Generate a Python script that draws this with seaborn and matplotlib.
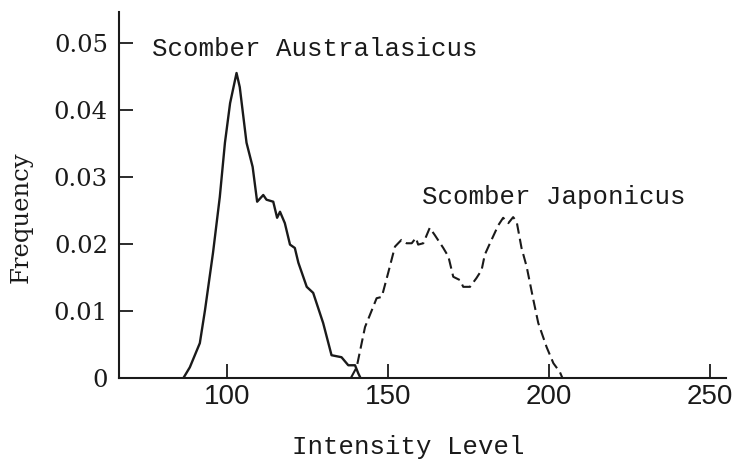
import numpy as np
import pandas as pd
import matplotlib
matplotlib.use("Agg")
import matplotlib.pyplot as plt
import seaborn as sns

# Intensity histograms
aus_x = [86.5, 88.5, 91.6, 93.2, 95.7, 97.8, 99.4, 101.0, 103.0, 104.0, 106.1, 108.0,
         109.4, 111.3, 112.3, 114.4, 115.6, 116.5, 118.0, 119.6, 121.1, 122.2, 124.8,
         126.8, 129.9, 132.5, 135.6, 137.7, 139.8, 140.8, 141.5]
aus_y = [0.0, 0.0016, 0.0052, 0.0101, 0.0187, 0.0270, 0.0351, 0.0410, 0.0455, 0.0434,
         0.0351, 0.0315, 0.0263, 0.0273, 0.0266, 0.0263, 0.0239, 0.0248, 0.0231, 0.0199,
         0.0194, 0.0172, 0.0136, 0.0127, 0.0082, 0.0034, 0.0031, 0.0019, 0.0019, 0.0007, 0.0]

jap_x = [138.5, 140.3, 142.9, 145.0, 146.5, 148.1, 150.1, 152.2, 154.2, 155.8, 157.4,
         158.7, 159.4, 161.0, 163.0, 164.6, 167.2, 168.8, 170.3, 172.4, 173.4, 175.5,
         177.5, 179.1, 180.1, 181.7, 184.3, 185.8, 187.4, 188.9, 190.0, 191.5, 193.1,
         195.2, 196.7, 199.3, 201.4, 203.4, 204.2]
jap_y = [0.0, 0.0016, 0.0076, 0.0101, 0.0119, 0.0121, 0.0157, 0.0196, 0.0206, 0.0201,
         0.0201, 0.0209, 0.0199, 0.0201, 0.0224, 0.0213, 0.0194, 0.0181, 0.0151, 0.0146,
         0.0136, 0.0136, 0.0149, 0.0161, 0.0184, 0.0201, 0.0228, 0.0239, 0.0231, 0.0240,
         0.0233, 0.0194, 0.0166, 0.0116, 0.0082, 0.0046, 0.0022, 0.0009, 0.0]

xticks = [100, 150, 200, 250]
yticks = [0, 0.01, 0.02, 0.03, 0.04, 0.05]
ytick_labels = ["0", "0.01", "0.02", "0.03", "0.04", "0.05"]

sns.set_style("ticks")
plt.rcParams["font.family"] = ["DejaVu Serif"]

ink = "#1a1a1a"

fig = plt.figure(figsize=(7.35, 4.59), dpi=100)
ax = fig.add_axes([119 / 735, 81 / 459, 607 / 735, 366 / 459])

aus = pd.DataFrame({"x": aus_x, "y": aus_y})
jap = pd.DataFrame({"x": jap_x, "y": jap_y})

sns.lineplot(data=aus, x="x", y="y", ax=ax, color=ink, lw=1.7,
             estimator=None, sort=False)
sns.lineplot(data=jap, x="x", y="y", ax=ax, color=ink, lw=1.5,
             estimator=None, sort=False, linestyle=(0, (5, 2.5)))

ax.set_xlim(66.5, 255)
ax.set_ylim(0, 0.0546)

ax.set_xticks(xticks)
ax.set_xticklabels([str(t) for t in xticks], family="Liberation Sans",
                   fontsize=20, color=ink)
ax.set_yticks(yticks)
ax.set_yticklabels(ytick_labels, family="DejaVu Serif", fontsize=17.5, color=ink)
ax.tick_params(axis="x", direction="in", length=10, width=1.3, pad=4, colors=ink)
ax.tick_params(axis="y", direction="in", length=10, width=1.3, pad=8, colors=ink)

for side in ["top", "right"]:
    ax.spines[side].set_visible(False)
for side in ["left", "bottom"]:
    ax.spines[side].set_linewidth(1.5)
    ax.spines[side].set_color(ink)

ax.set_xlabel("Intensity Level", family="Liberation Mono", fontsize=18.5, color=ink)
ax.xaxis.set_label_coords(0.476, -0.155)
ax.set_ylabel("Frequency", family="DejaVu Serif", fontsize=17.5, color=ink)
ax.yaxis.set_label_coords(-0.142, 0.44)

ax.text(76.6, 0.048, "Scomber Australasicus", family="Liberation Mono", fontsize=18.5,
        color=ink, va="baseline", ha="left")
ax.text(160.6, 0.026, "Scomber Japonicus", family="Liberation Mono", fontsize=18.5,
        color=ink, va="baseline", ha="left")

fig.savefig("out.png", dpi=100)
